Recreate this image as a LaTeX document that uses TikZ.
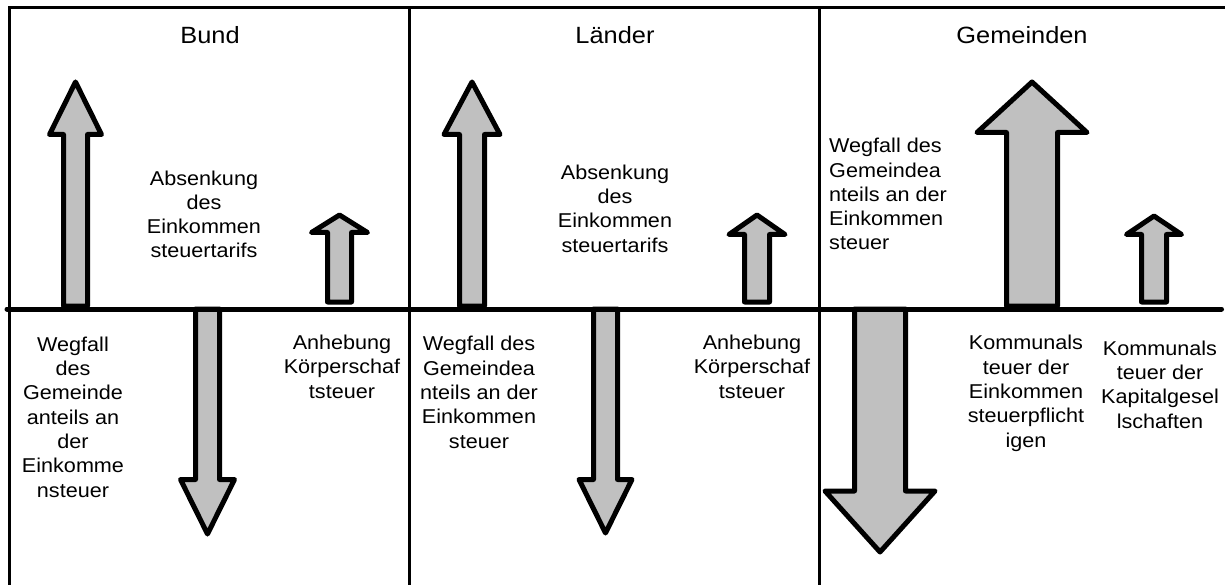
\documentclass[tikz,border=0pt]{standalone}
\usepackage{fontspec}
\setmainfont{Liberation Sans}[FakeStretch=1.08]
\definecolor{pfeilgrau}{RGB}{192,192,192}
\def\zeilen{24.3pt}

\begin{document}
\begin{tikzpicture}[x=1pt,y=-1pt]
    \tikzstyle{rahmen}=[draw=black,line width=3pt]
    \tikzstyle{achse}=[draw=black,line width=5pt,line cap=round]
    \tikzstyle{pfeil}=[draw=black,fill=pfeilgrau,line width=5pt,line join=round]
    \tikzstyle{titel}=[font=\fontsize{23.5}{28}\selectfont,anchor=base,inner sep=0pt]
    \tikzstyle{annot}=[font=\fontsize{20}{\zeilen}\selectfont,align=center,anchor=base,inner sep=0pt]

    \useasboundingbox (0,0) rectangle (1225,585);

    % Rahmen und Trennlinien
    \draw[rahmen] (9.5,585) -- (9.5,7.5) -- (1225,7.5);
    \foreach \x in {409.5,819.5}
        \draw[rahmen] (\x,7.5) -- (\x,585);

    % Pfeile: Mitte / Fuss / Spitze / Kopfansatz / halbe Schaftbreite / halbe Kopfbreite
    \foreach \cx/\fuss/\spitze/\kopf/\sh/\hh in {
            75.5/306/82/134.5/12/26, 339.5/302/215/232.5/12/28, 207.5/309/534/479.5/12/27,
            472/306/82/134.5/12.5/28, 757/302/215/234.5/12.5/28, 605.5/309/533/479.5/12/26.5,
            1032/306/82/132.5/25.5/55, 1154/302/216/234.5/12.5/27.5, 880/309/552/491/25.5/55}
        \draw[pfeil] (\cx-\sh,\fuss) -- (\cx-\sh,\kopf) -- (\cx-\hh,\kopf) -- (\cx,\spitze)
            -- (\cx+\hh,\kopf) -- (\cx+\sh,\kopf) -- (\cx+\sh,\fuss) -- cycle;

    \draw[achse] (7,309) -- (1221.5,309);

    % Ueberschriften
    \foreach \name/\x/\txt in {bund/210/Bund, laender/615/Länder, gemeinden/1022/Gemeinden}
        \node[titel] (\name) at (\x,43.5) {\txt};

    % Bund (Anker: Grundlinie der letzten Zeile)
    \node[annot] (bund-ab) at (204,258) {Absenkung\\des\\Einkommen\\steuertarifs};
    \node[annot] (bund-weg) at (73,497) {Wegfall\\des\\Gemeinde\\anteils an\\der\\Einkomme\\nsteuer};
    \node[annot] (bund-an) at (342,398) {Anhebung\\Körperschaf\\tsteuer};

    % Laender
    \node[annot] (laender-ab) at (615,252) {Absenkung\\des\\Einkommen\\steuertarifs};
    \node[annot] (laender-weg) at (479,448) {Wegfall des\\Gemeindea\\nteils an der\\Einkommen\\steuer};
    \node[annot] (laender-an) at (752,398) {Anhebung\\Körperschaf\\tsteuer};

    % Gemeinden
    \node[annot,align=left,anchor=base west] (gemeinden-weg) at (829,250) {Wegfall des\\Gemeindea\\nteils an der\\Einkommen\\steuer};
    \node[annot] (gemeinden-ek) at (1026,447) {Kommunals\\teuer der\\Einkommen\\steuerpflicht\\igen};
    \node[annot] (gemeinden-kg) at (1160,428) {Kommunals\\teuer der\\Kapitalgesel\\lschaften};
\end{tikzpicture}
\end{document}
